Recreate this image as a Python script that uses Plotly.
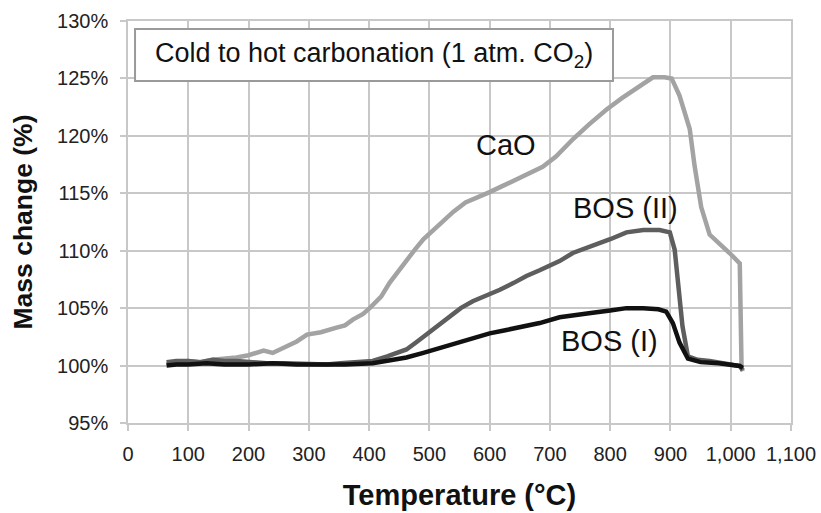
import plotly.graph_objects as go

cao_temp = [64, 80, 100, 120, 140, 160, 180, 200, 215, 225, 240, 260, 280, 297, 320, 346, 360, 373, 390, 401,
            420, 434, 448, 462, 476, 490, 505, 517, 540, 560, 580, 600, 620, 640, 660, 688, 710, 738, 765, 794,
            820, 849, 871, 890, 902, 915, 932, 940, 951, 965, 982, 998, 1015, 1018, 1020]
cao_mass = [100.1, 100.3, 100.4, 100.3, 100.5, 100.6, 100.7, 100.9, 101.1, 101.3, 101.1, 101.6, 102.1, 102.7,
            102.9, 103.3, 103.5, 104.0, 104.5, 105.0, 106.0, 107.2, 108.2, 109.2, 110.1, 111.0, 111.7, 112.3,
            113.4, 114.2, 114.6, 115.1, 115.6, 116.1, 116.6, 117.3, 118.2, 119.7, 121.0, 122.3, 123.3, 124.3,
            125.1, 125.1, 125.0, 123.5, 120.6, 117.4, 113.8, 111.4, 110.6, 109.8, 108.9, 99.8, 99.5]

bos2_temp = [64, 80, 100, 120, 141, 160, 180, 200, 230, 260, 300, 330, 352, 380, 406, 430, 462, 480, 500, 517,
             534, 552, 572, 595, 617, 640, 661, 683, 705, 716, 738, 771, 800, 827, 855, 882, 899, 907, 912, 920,
             929, 945, 965, 990, 1015, 1020]
bos2_mass = [100.3, 100.4, 100.4, 100.3, 100.5, 100.4, 100.4, 100.3, 100.2, 100.2, 100.1, 100.1, 100.2, 100.3,
             100.4, 100.8, 101.4, 102.1, 102.9, 103.6, 104.3, 105.0, 105.6, 106.1, 106.6, 107.2, 107.8, 108.3,
             108.8, 109.1, 109.8, 110.4, 111.0, 111.6, 111.8, 111.8, 111.6, 110.1, 107.2, 103.4, 100.8, 100.5,
             100.4, 100.2, 99.95, 99.6]

bos1_temp = [64, 80, 100, 130, 160, 200, 240, 280, 320, 360, 406, 430, 462, 490, 517, 545, 572, 600, 628, 655,
             683, 716, 750, 771, 800, 827, 855, 880, 893, 904, 915, 929, 950, 980, 1015, 1020]
bos1_mass = [100.0, 100.1, 100.1, 100.2, 100.1, 100.1, 100.2, 100.1, 100.1, 100.1, 100.2, 100.4, 100.7, 101.1,
             101.5, 102.0, 102.4, 102.8, 103.1, 103.4, 103.7, 104.2, 104.4, 104.6, 104.8, 105.0, 105.0, 104.9,
             104.7, 103.7, 102.0, 100.6, 100.3, 100.2, 99.97, 99.8]

x_ticks = [0, 100, 200, 300, 400, 500, 600, 700, 800, 900, 1000, 1100]
x_tick_labels = ["0", "100", "200", "300", "400", "500", "600", "700", "800", "900", "1,000", "1,100"]
y_ticks = [95, 100, 105, 110, 115, 120, 125, 130]
y_tick_labels = ["95%", "100%", "105%", "110%", "115%", "120%", "125%", "130%"]

series_labels = ["CaO", "BOS (II)", "BOS (I)"]
label_pos = [(627, 119.2), (825, 113.7), (799, 102.1)]

FONT = "Liberation Sans, Arial, sans-serif"
GRID = "#c8c8c8"

fig = go.Figure()
fig.add_trace(go.Scatter(x=cao_temp, y=cao_mass, mode="lines", name="CaO",
                         line=dict(color="#a3a3a3", width=4.5)))
fig.add_trace(go.Scatter(x=bos2_temp, y=bos2_mass, mode="lines", name="BOS (II)",
                         line=dict(color="#5e5e5e", width=4.5)))
fig.add_trace(go.Scatter(x=bos1_temp, y=bos1_mass, mode="lines", name="BOS (I)",
                         line=dict(color="#111111", width=4.5)))

for lab, (tx, ty) in zip(series_labels, label_pos):
    fig.add_annotation(x=tx, y=ty, text=lab, showarrow=False, xanchor="center", yanchor="middle",
                       font=dict(family=FONT, size=29, color="#111"))

# title box
fig.add_shape(type="rect", xref="paper", yref="paper", x0=0.0106, x1=0.7315, y0=0.851, y1=0.980,
              line=dict(color="#9a9a9a", width=2), fillcolor="white", layer="above")
fig.add_annotation(xref="paper", yref="paper", x=0.371, y=0.915, xanchor="center", yanchor="middle",
                   text="Cold to hot carbonation (1 atm. CO<sub>2</sub>)", showarrow=False,
                   font=dict(family=FONT, size=27, color="#111"))

fig.update_layout(
    width=821, height=513,
    margin=dict(l=128, r=30, t=21, b=90, autoexpand=False),
    paper_bgcolor="white", plot_bgcolor="white",
    showlegend=False,
    font=dict(family=FONT, color="#222"),
)
fig.update_xaxes(
    range=[0, 1100], tickvals=x_ticks, ticktext=x_tick_labels,
    showgrid=True, gridcolor=GRID, gridwidth=1.5,
    showline=True, linecolor=GRID, linewidth=1.5, mirror=True,
    ticks="outside", ticklen=6, tickcolor=GRID, tickwidth=1.5,
    ticklabelstandoff=6,
    tickfont=dict(family=FONT, size=20, color="#222"),
    zeroline=False,
    title=dict(text="<b>Temperature (°C)</b>", font=dict(family=FONT, size=29, color="#111"), standoff=21),
)
fig.update_yaxes(
    range=[95, 130], tickvals=y_ticks, ticktext=y_tick_labels,
    showgrid=True, gridcolor=GRID, gridwidth=1.5,
    showline=True, linecolor=GRID, linewidth=1.5, mirror=True,
    ticks="outside", ticklen=6, tickcolor=GRID, tickwidth=1.5,
    ticklabelstandoff=8,
    tickfont=dict(family=FONT, size=20, color="#222"),
    zeroline=False,
    title=dict(text="<b>Mass change (%)</b>", font=dict(family=FONT, size=26.5, color="#111"), standoff=17),
)

fig.write_html("out.html", config={"displayModeBar": False},
               post_script="document.body.style.margin='0px';document.body.style.overflow='hidden';")
